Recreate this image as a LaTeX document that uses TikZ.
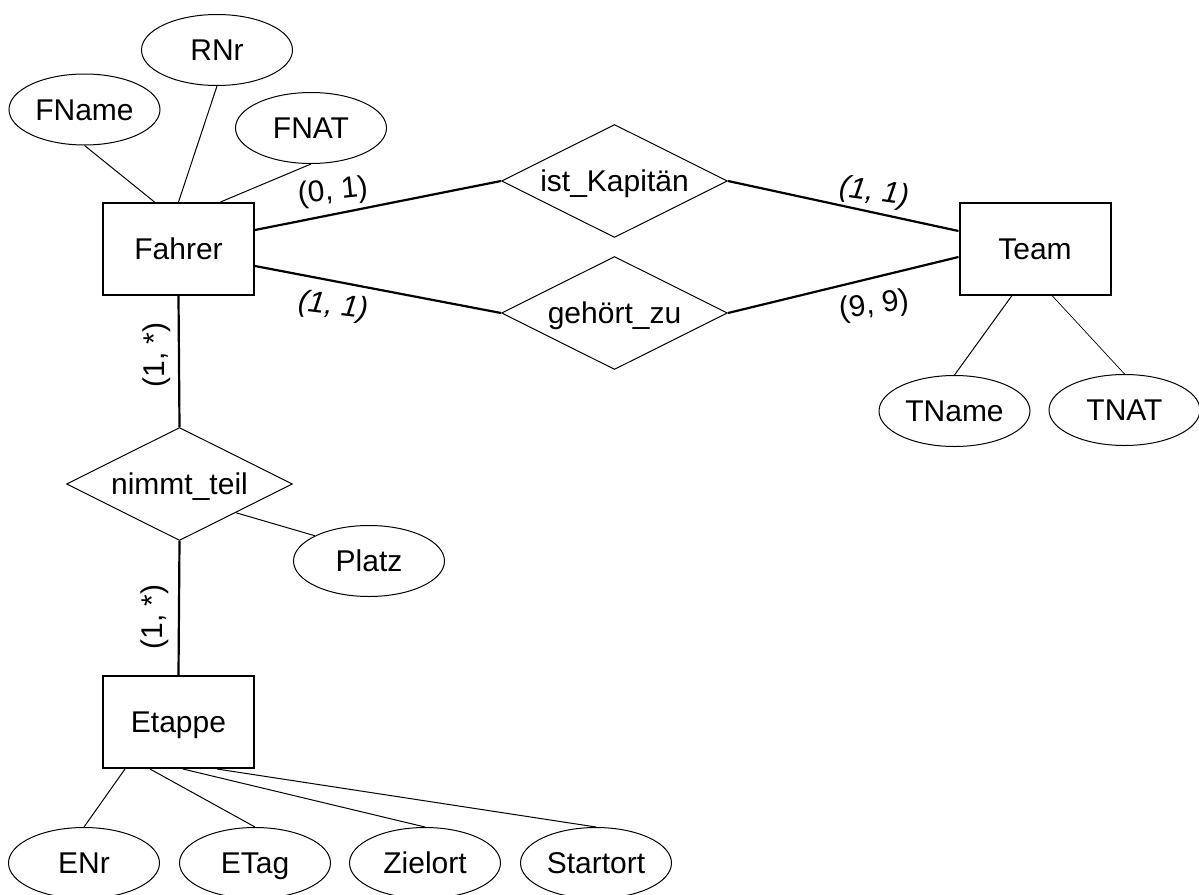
\documentclass[tikz,border=0pt]{standalone}
\usepackage{fontspec}
\setmainfont{Liberation Sans}
\usetikzlibrary{shapes.geometric}

\begin{document}
\begin{tikzpicture}[x=0.5pt, y=-0.5pt,
  font=\fontsize{15pt}{17pt}\selectfont,
  entity/.style={draw, line width=1pt, minimum width=75.5pt, minimum height=46pt,
    text height=10.7pt, text depth=0pt},
  relship/.style={draw, diamond, aspect=2, inner sep=0pt, line width=0.5pt,
    minimum width=113pt, minimum height=56.5pt, text height=10.7pt, text depth=0pt},
  attrib/.style={draw, ellipse, inner sep=0pt, line width=0.5pt,
    minimum width=75.5pt, minimum height=35.5pt, text height=10.7pt, text depth=0pt},
  link/.style={line width=1.1pt},
  attlink/.style={line width=0.5pt},
  card/.style={inner sep=0pt}]
\useasboundingbox (0,0) rectangle (1199,894);
%
\node[entity] (fahrer) at (178.5,249) {Fahrer};
\node[entity] (team) at (1035,248.5) {Team};
\node[entity] (etappe) at (178.5,722) {Etappe};
%
\node[relship] (kapitaen) at (614.5,181) {ist\_Kapitän};
\node[relship] (gehoert) at (614.5,313) {gehört\_zu};
\node[relship] (nimmt) at (179.5,484) {nimmt\_teil};
%
\node[attrib] (fname) at (84.5,109.5) {FName};
\node[attrib] (rnr) at (217,50) {RNr};
\node[attrib] (fnat) at (311,128) {FNAT};
\node[attrib] (tname) at (954.5,411) {TName};
\node[attrib] (tnat) at (1124.5,410) {TNAT};
\node[attrib] (platz) at (369,561) {Platz};
\node[attrib] (enr) at (84,863) {ENr};
\node[attrib] (etag) at (255,863) {ETag};
\node[attrib] (zielort) at (425,863) {Zielort};
\node[attrib] (startort) at (596,863) {Startort};
%
\draw[attlink] (fname.south) -- ([xshift=-12pt]fahrer.north);
\draw[attlink] (rnr.south) -- (fahrer.north);
\draw[attlink] (fnat.south) -- ([xshift=21pt]fahrer.north);
%
\draw[link] ([yshift=9.5pt]fahrer.east) -- (kapitaen.west);
\draw[link] (kapitaen.east) -- ([yshift=8.75pt]team.west);
\draw[link] ([yshift=-8.5pt]fahrer.east) -- (gehoert.west);
\draw[link] (gehoert.east) -- ([yshift=-4.25pt]team.west);
%
\draw[attlink] ([xshift=-11.5pt]team.south) -- (tname.north);
\draw[line width=0.35pt] ([xshift=8.5pt]team.south) -- (tnat.north);
%
\draw[link] (fahrer.south) -- (nimmt.north);
\draw[link] (nimmt.south) -- (etappe.north);
\draw[attlink] (nimmt.-27) -- (platz.155);
%
\draw[attlink] ([xshift=-26.75pt]etappe.south) -- (enr.north);
\draw[attlink] ([xshift=-14.25pt]etappe.south) -- (etag.north);
\draw[attlink] ([xshift=2.25pt]etappe.south) -- (zielort.north);
\draw[attlink] ([xshift=19.25pt]etappe.south) -- (startort.north);
%
\node[card, rotate=6] (c01) at (333,192) {(0, 1)};
\node[card, rotate=-7] (c11a) at (333,307) {\textit{(1, 1)}};
\node[card, rotate=-8] (c11b) at (874,193) {\textit{(1, 1)}};
\node[card, rotate=8] (c99) at (874,306) {(9, 9)};
\node[card, rotate=90] (c1na) at (157,355) {(1, *)};
\node[card, rotate=90] (c1nb) at (155,617) {(1, *)};
%
\end{tikzpicture}
\end{document}
